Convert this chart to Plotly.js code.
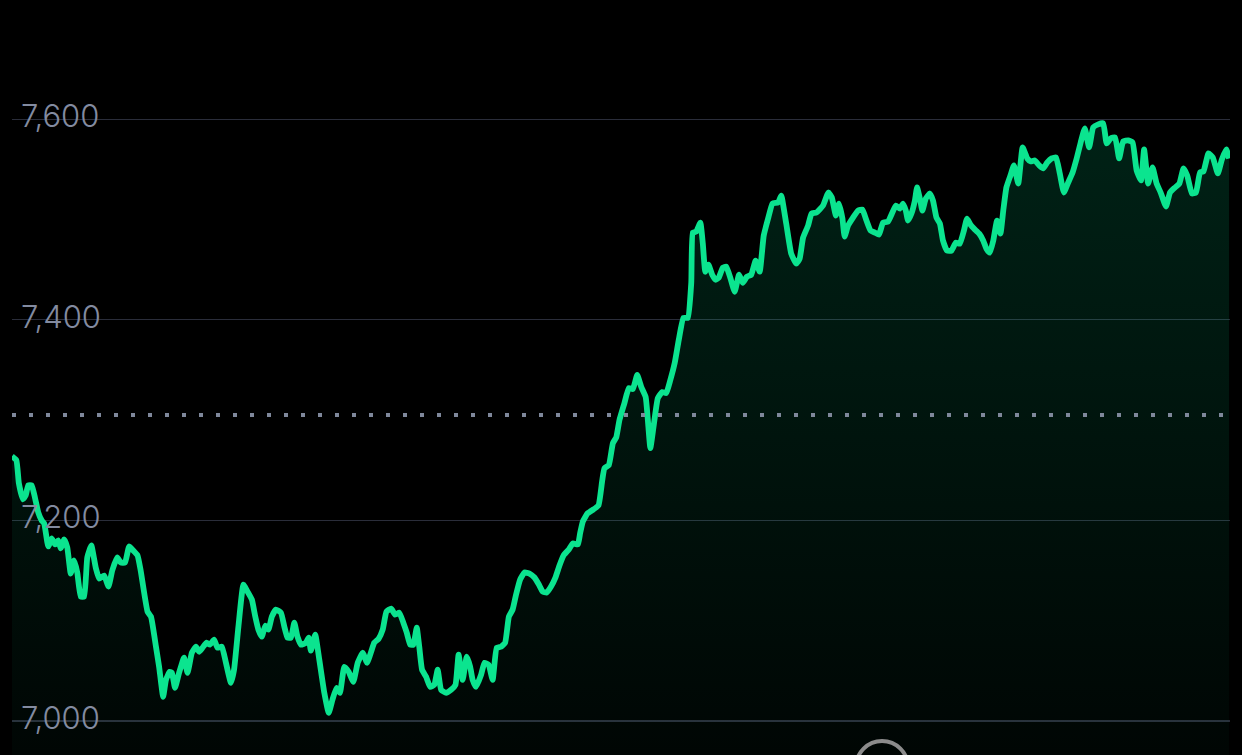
<!DOCTYPE html>
<html>
<head>
<meta charset="utf-8">
<script src="https://cdn.plot.ly/plotly-3.0.1.min.js"></script>
<style>
  html, body { margin: 0; padding: 0; background: #000; }
  #chart { width: 1242px; height: 755px; }
</style>
</head>
<body>
<div id="chart"></div>
<script>
// Session minutes (x) and index level (y)
const minutes = [0,1.4,2.2,3.5,4.4,5.2,6.3,7.4,8.4,9.5,
10.3,11.6,12.7,13.8,14.8,15.6,16.7,17.7,18.8,19.9,
20.9,22.0,23.1,24.1,25.4,26.8,27.9,29.5,30.9,32.1,
33.7,34.8,36.2,37.5,38.8,40.2,41.2,43.4,44.5,46.1,
47.1,48.4,49.3,50.5,51.2,52.2,53.5,55.1,56.2,57.6,
58.9,59.9,61.0,62.3,63.4,64.7,65.8,67.2,68.5,70.1,
71.1,72.5,74.1,75.4,76.8,77.9,78.9,80.0,81.1,82.1,
83.2,84.5,86.1,87.2,88.2,89.3,90.4,91.4,92.5,94.1,
95.0,95.7,97.1,98.4,100.0,101.4,102.6,103.9,105.0,106.4,
107.8,109.3,110.7,112.3,113.7,115.0,116.0,117.4,118.7,119.9,
121.4,122.7,124.0,125.3,126.4,127.5,128.5,129.6,130.4,131.3,
132.6,133.9,135.2,136.3,137.4,139.0,140.6,142.0,143.0,144.3,
145.6,146.7,147.5,148.6,150.2,151.3,152.6,153.9,155.2,156.6,
157.9,159.1,160.3,161.4,162.7,164.1,165.7,167.3,168.7,169.9,
171.2,172.6,174.0,175.3,176.6,178.3,179.6,181.2,181.9,182.8,
184.3,186.2,187.8,189.0,189.7,191.1,192.4,193.5,194.5,196.1,
197.5,198.8,200.2,201.5,202.9,203.6,204.4,205.4,206.8,208.2,
209.5,210.8,212.2,213.5,215.0,216.4,217.5,218.0,219.1,220.4,
221.2,222.0,223.0,224.2,225.3,226.3,227.6,228.7,230.0,231.4,
232.8,234.0,235.3,236.7,238.1,239.4,240.7,242.1,243.5,245.3,
246.3,247.9,249.5,251.1,252.2,253.3,254.9,256.0,257.6,259.7,
261.4,262.5,263.8,264.8,265.9,266.6,267.7,269.3,270.9,272.3,
273.6,274.9,276.3,277.6,278.9,280.5,281.9,283.0,284.3,285.3,
286.2,286.9,288.0,289.1,289.8,290.7,291.5,292.6,293.9,294.9,
296.0,297.1,298.1,299.4,300.8,302.2,303.5,304.8,305.8,306.9,
308.0,309.7,311.0,312.0,313.1,314.2,315.4,316.5,317.4,318.4,
319.7,320.8,322.2,323.6,325.1,326.2,327.5,328.9,330.2,331.5,
332.9,334.3,335.5,336.8,338.2,339.6,340.9,342.2,343.5,344.9,
346.2,347.8,349.4,350.5,351.8,353.2,354.5,355.8,357.4,358.8,
360.1,361.5,362.5,363.8,365.2,366.5,367.8,369.5,370.8,372.4,
373.8,375.1,376.3,377.8,379.1,380.4,381.5,383.1,384.5,386.1,
387.4,388.8,389.7];

const prices = [7264,7260,7237,7221,7225,7235,7235,7222,7208,7200,
7197,7174,7182,7176,7180,7172,7181,7173,7147,7160,
7148,7124,7124,7163,7175,7153,7142,7145,7134,7150,
7163,7158,7158,7174,7170,7165,7150,7109,7104,7074,
7054,7024,7041,7049,7048,7033,7048,7063,7048,7068,
7074,7069,7073,7078,7076,7081,7073,7074,7058,7038,
7051,7094,7136,7129,7121,7104,7091,7084,7095,7091,
7104,7111,7108,7094,7083,7083,7098,7084,7076,7078,
7083,7070,7086,7061,7028,7008,7021,7033,7028,7054,
7049,7039,7058,7068,7058,7069,7078,7082,7091,7109,
7112,7106,7108,7098,7088,7076,7076,7093,7074,7051,
7044,7034,7036,7051,7031,7028,7031,7036,7066,7041,
7064,7054,7041,7034,7046,7058,7056,7041,7073,7074,
7078,7104,7111,7126,7141,7148,7147,7143,7136,7129,
7128,7134,7143,7155,7165,7171,7177,7176,7187,7199,
7207,7211,7215,7240,7252,7255,7277,7283,7300,7317,
7332,7331,7345,7333,7323,7300,7272,7293,7322,7328,
7327,7340,7357,7380,7402,7402,7437,7487,7488,7497,
7476,7448,7455,7445,7440,7442,7452,7453,7442,7428,
7445,7437,7443,7445,7459,7448,7484,7501,7516,7517,
7524,7496,7466,7456,7461,7482,7494,7506,7507,7514,
7527,7522,7504,7516,7501,7483,7494,7502,7509,7510,
7499,7489,7487,7485,7497,7498,7507,7514,7511,7516,
7509,7499,7506,7519,7532,7521,7509,7521,7526,7519,
7502,7496,7479,7469,7469,7477,7476,7489,7501,7495,
7491,7486,7479,7471,7467,7479,7499,7486,7509,7532,
7544,7554,7536,7572,7561,7558,7559,7554,7551,7557,
7561,7562,7546,7527,7537,7547,7561,7577,7591,7572,
7592,7595,7596,7576,7581,7582,7561,7578,7579,7577,
7549,7539,7570,7536,7552,7536,7527,7513,7527,7532,
7536,7551,7544,7526,7527,7547,7548,7566,7562,7546,
7560,7570,7561];

const previousClose = 7305;
const tickValues = [7000, 7200, 7400, 7600];
const tickLabels = ['7,000', '7,200', '7,400', '7,600'];
const sessionRange = [0, 390];
const levelRange = [6966, 7719];

const trace = {
  x: minutes,
  y: prices,
  type: 'scatter',
  mode: 'lines',
  line: { color: '#0be48f', width: 5.8, shape: 'spline', smoothing: 0.4 },
  fill: 'tozeroy',
  fillgradient: {
    type: 'vertical',
    start: levelRange[0],
    stop: 7600,
    colorscale: [[0, 'rgba(0,200,130,0.03)'], [1, 'rgba(0,200,130,0.17)']]
  },
  hoverinfo: 'skip'
};

const layout = {
  width: 1242,
  height: 755,
  margin: { l: 12, r: 12, t: 0, b: 0 },
  paper_bgcolor: '#000000',
  plot_bgcolor: '#000000',
  showlegend: false,
  xaxis: {
    range: sessionRange,
    showgrid: false, zeroline: false, showticklabels: false, showline: false, ticks: ''
  },
  yaxis: {
    range: levelRange,
    tickvals: tickValues,
    ticktext: tickLabels,
    ticklabelposition: 'inside',
    ticklabelshift: -3,
    ticklabelstandoff: 6,
    showgrid: true,
    gridcolor: '#2a2d3a',
    gridwidth: 1.2,
    zeroline: false,
    showline: false,
    ticks: '',
    tickfont: { family: 'Inter, "Liberation Sans", sans-serif', size: 31, color: '#838ba0', weight: 300 }
  },
  shapes: [
    {
      type: 'line', xref: 'paper', x0: 0, x1: 1, yref: 'y', y0: previousClose, y1: previousClose,
      line: { color: '#7f889b', width: 4, dash: '4px,13px' }, layer: 'above'
    },
    {
      type: 'circle', xref: 'paper', yref: 'paper',
      xsizemode: 'pixel', ysizemode: 'pixel',
      xanchor: 0.7143, yanchor: -0.0159,
      x0: -26, x1: 26, y0: -26, y1: 26,
      line: { color: '#8c8c8c', width: 4 }, fillcolor: 'rgba(0,0,0,0)'
    }
  ]
};

Plotly.newPlot('chart', [trace], layout, { displayModeBar: false, staticPlot: true });
</script>
</body>
</html>
